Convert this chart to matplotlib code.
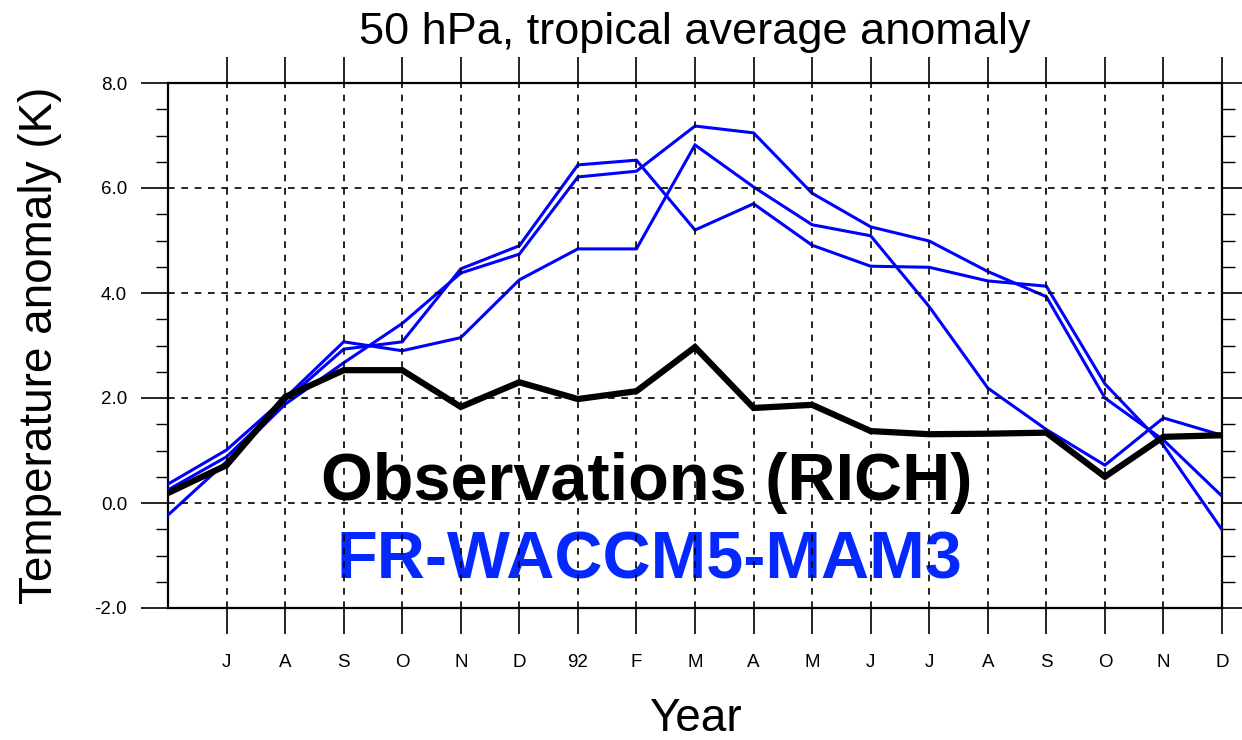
import matplotlib
matplotlib.use("Agg")
import matplotlib.pyplot as plt
from matplotlib.ticker import MultipleLocator

plt.rcParams['font.family'] = ['Liberation Sans', 'DejaVu Sans']

# Months from Jun 1991 to Dec 1992 (first point unlabeled)
month_labels = ['J', 'A', 'S', 'O', 'N', 'D', '92', 'F', 'M', 'A', 'M', 'J', 'J', 'A', 'S', 'O', 'N', 'D']

obs = [0.19, 0.72, 2.02, 2.53, 2.53, 1.83, 2.30, 1.98, 2.13, 2.97, 1.81, 1.87,
       1.37, 1.31, 1.32, 1.34, 0.50, 1.26, 1.29]

model_a = [-0.23, 0.79, 1.88, 2.67, 3.42, 4.38, 4.74, 6.21, 6.32, 7.18, 7.05, 5.90,
           5.26, 4.99, 4.41, 3.93, 2.00, 1.20, 0.13]
model_b = [0.25, 0.88, 1.95, 2.93, 3.07, 4.46, 4.90, 6.44, 6.53, 5.20, 5.70, 4.91,
           4.51, 4.49, 4.23, 4.13, 2.27, 1.10, -0.51]
model_c = [0.36, 1.01, 2.00, 3.07, 2.90, 3.15, 4.25, 4.84, 4.84, 6.82, 6.02, 5.30,
           5.09, 3.74, 2.19, 1.40, 0.72, 1.62, 1.29]

y_ticks = [-2.0, 0.0, 2.0, 4.0, 6.0, 8.0]

fig = plt.figure(figsize=(12.42, 7.40), dpi=100)
ax = fig.add_axes([168/1242, 1-608/740, (1222-168)/1242, (608-83)/740])

x = list(range(len(obs)))
for series in (model_a, model_b, model_c):
    ax.plot(x, series, color='#0000ff', lw=2.2, zorder=3, solid_joinstyle='miter')
ax.plot(x, obs, color='black', lw=4.5, zorder=4, solid_joinstyle='miter')

ax.set_xlim(0, len(obs) - 1)
ax.set_ylim(-2, 8)

xt = list(range(1, len(obs)))
ax.set_xticks(xt)
ax.set_xticklabels(month_labels, fontsize=13.5)
ax.set_yticks(y_ticks)
ax.set_yticklabels([f"{v:.1f}" for v in y_ticks], fontsize=13.5)
ax.yaxis.set_minor_locator(MultipleLocator(0.5))

ax.tick_params(axis='x', which='major', direction='out', length=19, width=1.2,
               top=True, bottom=True, pad=14)
ax.tick_params(axis='y', which='major', direction='out', length=19.5, width=1.2,
               left=True, right=True, pad=10)
ax.tick_params(axis='y', which='minor', direction='out', length=9, width=1.0,
               left=True, right=True)
for s in ax.spines.values():
    s.set_linewidth(1.6)

# grid: dashed, vertical at each month, horizontal at interior majors
for xi in xt[:-1]:
    ax.axvline(xi, color='black', lw=1.2, ls=(0, (4, 4)), zorder=5)
for yv in [0, 2, 4, 6]:
    ax.axhline(yv, color='black', lw=1.2, ls=(0, (4, 4)), zorder=5)

ax.text(8.18, 0.06, 'Observations (RICH)', fontsize=48, fontweight='bold',
        color='black', ha='center', va='baseline', zorder=2)
ax.text(8.22, -1.43, 'FR-WACCM5-MAM3', fontsize=48, fontweight='bold',
        color='#0528ff', ha='center', va='baseline', zorder=2)

fig.text(695/1242, 1-44/740, '50 hPa, tropical average anomaly', fontsize=32.5,
         ha='center', va='baseline')
ax.set_ylabel('Temperature anomaly (K)', fontsize=33)
ax.yaxis.set_label_coords(-0.1006, 0.5)
ax.set_xlabel('Year', fontsize=33)
ax.xaxis.set_label_coords(0.5, -0.169)

fig.savefig('out.png', dpi=100)
